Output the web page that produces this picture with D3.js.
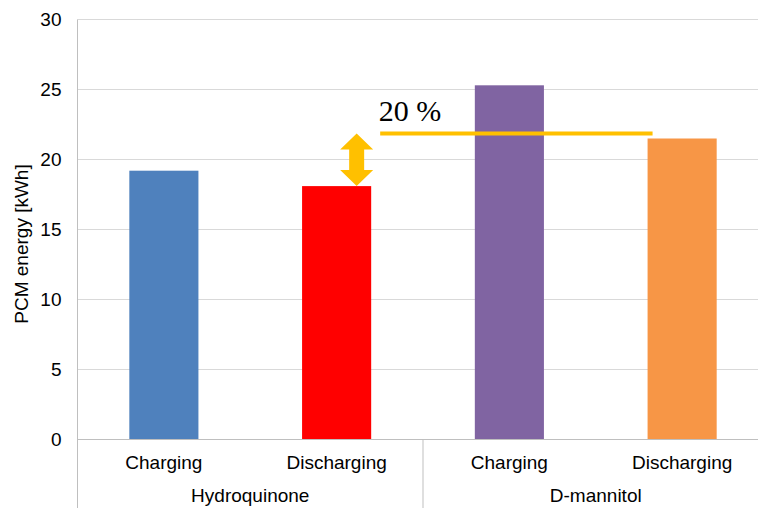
<!DOCTYPE html>
<html>
<head>
<meta charset="utf-8">
<script src="https://cdn.jsdelivr.net/npm/d3@7"></script>
<style>
  html, body { margin: 0; padding: 0; background: #fff; }
  svg { display: block; }
  text { font-family: "Liberation Sans", Arial, sans-serif; fill: #000; }
</style>
</head>
<body>
<svg id="chart" width="758" height="508"></svg>
<script>
// PCM energy per phase and material
const groups = ["Hydroquinone", "D-mannitol"];
const phases = ["Charging", "Discharging"];
const energyHydroquinone = [19.2, 18.1];
const energyMannitol = [25.3, 21.5];
const barColors = ["#4F81BD", "#FF0000", "#8064A2", "#F79646"];
const yTicks = [0, 5, 10, 15, 20, 25, 30];
const yTitle = "PCM energy [kWh]";

// Reference level for the annotated gap between the two discharging results
const gapLevel = 21.85;
const gapLabel = "20 %";

const rows = [];
groups.forEach((g, gi) => {
  const vals = gi === 0 ? energyHydroquinone : energyMannitol;
  phases.forEach((p, pi) => rows.push({ group: g, phase: p, key: g + "|" + p, value: vals[pi] }));
});

const svg = d3.select("#chart");
const plotLeft = 77.5, plotTop = 19.5, plotBottom = 439.5, plotRight = 768.5;

const y = d3.scaleLinear().domain([0, 30]).range([plotBottom, plotTop]);
const x = d3.scaleBand().domain(rows.map(d => d.key)).range([plotLeft, plotRight])
  .paddingInner(0.6).paddingOuter(0.3);
const xGroup = d3.scaleBand().domain(groups).range([plotLeft, plotRight]);

// Horizontal gridlines
svg.append("g").selectAll("line").data(yTicks.filter(t => t > 0)).join("line")
  .attr("x1", plotLeft).attr("x2", plotRight)
  .attr("y1", d => y(d)).attr("y2", d => y(d))
  .attr("stroke", "#d9d9d9").attr("stroke-width", 1);

// Y axis labels
const yAxis = svg.append("g").attr("transform", `translate(${plotLeft},0)`)
  .call(d3.axisLeft(y).tickValues(yTicks).tickSize(0).tickPadding(16));
yAxis.select(".domain").remove();
yAxis.selectAll("text").style("font-size", "19px")
  .style("font-family", "'Liberation Sans', Arial, sans-serif").attr("fill", "#000");

// Bars
svg.append("g").selectAll("rect").data(rows).join("rect")
  .attr("x", d => x(d.key)).attr("width", x.bandwidth())
  .attr("y", d => y(d.value)).attr("height", d => y(0) - y(d.value))
  .attr("fill", (d, i) => barColors[i]);

// Axis lines and group separators
svg.append("line").attr("x1", plotLeft).attr("x2", plotRight).attr("y1", plotBottom).attr("y2", plotBottom)
  .attr("stroke", "#bfbfbf");
svg.append("line").attr("x1", plotLeft).attr("x2", plotLeft).attr("y1", plotTop).attr("y2", 508)
  .attr("stroke", "#bfbfbf");
svg.append("g").selectAll("line").data(groups).join("line")
  .attr("x1", d => xGroup(d) + xGroup.bandwidth()).attr("x2", d => xGroup(d) + xGroup.bandwidth())
  .attr("y1", plotBottom).attr("y2", 508).attr("stroke", "#bfbfbf");

// Category labels
svg.append("g").selectAll("text").data(rows).join("text")
  .attr("x", d => x(d.key) + x.bandwidth() / 2).attr("y", 469)
  .attr("text-anchor", "middle").style("font-size", "19px")
  .text(d => d.phase);
svg.append("g").selectAll("text").data(groups).join("text")
  .attr("x", d => xGroup(d) + xGroup.bandwidth() / 2).attr("y", 502)
  .attr("text-anchor", "middle").style("font-size", "19px")
  .text(d => d);

// Y axis title
svg.append("text")
  .attr("transform", "translate(28,244) rotate(-90)")
  .attr("text-anchor", "middle").style("font-size", "19px")
  .text(yTitle);

// Gap annotation: reference line, double arrow and label
const gold = "#FFC000";
const hqDis = rows[1], dmDis = rows[3];
const lineX1 = x(hqDis.key) + x.bandwidth() + 9;
const lineX2 = x(dmDis.key) + 5;
svg.append("line")
  .attr("x1", lineX1).attr("x2", lineX2)
  .attr("y1", y(gapLevel)).attr("y2", y(gapLevel))
  .attr("stroke", gold).attr("stroke-width", 4);

const ax = x(hqDis.key) + x.bandwidth() * 0.79;
const yTip = y(gapLevel), yBase = y(hqDis.value);
const hw = 16.5, sw = 7.5, hl = 16;
const arrow = d3.path();
arrow.moveTo(ax, yTip);
arrow.lineTo(ax + hw, yTip + hl);
arrow.lineTo(ax + sw, yTip + hl);
arrow.lineTo(ax + sw, yBase - hl);
arrow.lineTo(ax + hw, yBase - hl);
arrow.lineTo(ax, yBase);
arrow.lineTo(ax - hw, yBase - hl);
arrow.lineTo(ax - sw, yBase - hl);
arrow.lineTo(ax - sw, yTip + hl);
arrow.lineTo(ax - hw, yTip + hl);
arrow.closePath();
svg.append("path").attr("d", arrow.toString()).attr("fill", gold);

svg.append("text")
  .attr("x", lineX1 - 1.5).attr("y", 121)
  .style("font-family", "'Liberation Serif', 'Times New Roman', serif")
  .style("font-size", "30px")
  .text(gapLabel);
</script>
</body>
</html>
